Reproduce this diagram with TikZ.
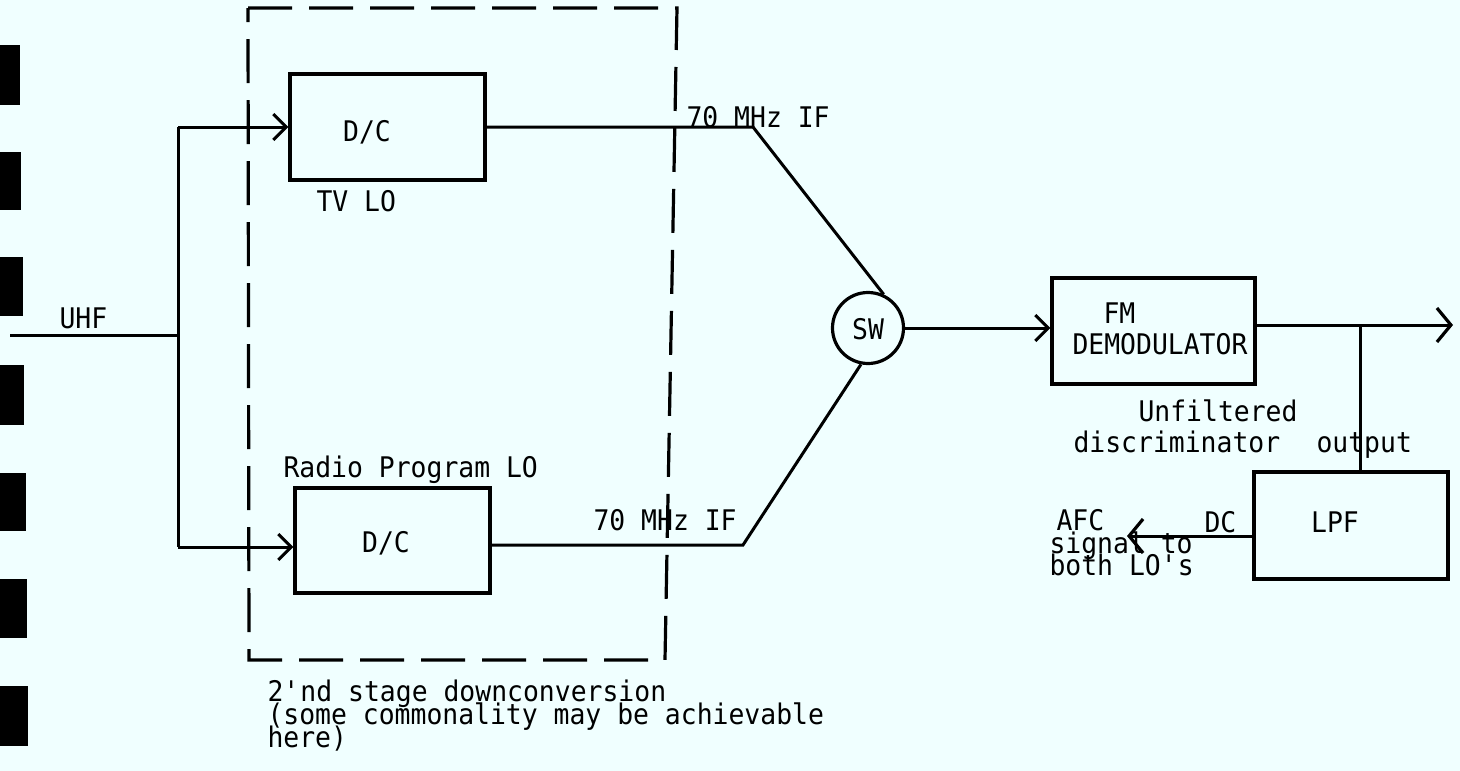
\documentclass[tikz,border=0pt]{standalone}
\usepackage{fontspec}
\setmainfont{DejaVu Sans Mono}[FakeStretch=0.93]
\usetikzlibrary{arrows.meta}
\definecolor{paper}{HTML}{F0FFFF}
\begin{document}
\begin{tikzpicture}[x=1pt,y=-1pt,line width=3pt,
  every node/.style={font=\fontsize{28.4}{23}\selectfont,inner sep=0pt},
  lbl/.style={anchor=base west},
  blk/.style={draw,rectangle,line width=3.2pt},
  arr/.style={-{Straight Barb[length=13pt,width=26pt,line width=3pt]}},
  bigarr/.style={-{Straight Barb[length=14pt,width=34pt,line width=3.2pt]}},
  frame/.style={line width=3.2pt,dash pattern=on 44pt off 17pt},
  bar/.style={fill=black}]
\fill[paper] (0,0) rectangle (1460,771);
\useasboundingbox (0,0) rectangle (1460,771);
% scan holes on the left edge
\fill[bar] (0,45) rectangle (20,105);
\fill[bar] (0,152) rectangle (21,210);
\fill[bar] (0,257) rectangle (23,316);
\fill[bar] (0,365) rectangle (24,425);
\fill[bar] (0,473) rectangle (26,531);
\fill[bar] (0,579) rectangle (27,638);
\fill[bar] (0,686) rectangle (28,746);
% dashed frame
\draw[frame] (248,8) -- (677,8) -- (665,660) -- (249,660) -- cycle;
% blocks
\node[blk,minimum width=195pt,minimum height=106pt] (tv) at (387.5,127) {};
\node (tvdc) at (367,132) {D/C};
\node[blk,minimum width=195pt,minimum height=105pt] (radio) at (392.5,540.5) {};
\node (raddc) at (386,543) {D/C};
\node[draw,circle,line width=3.2pt,minimum size=71pt] (sw) at (868,328) {};
\node (swt) at (868,329) {SW};
\node[blk,minimum width=203pt,minimum height=106pt] (fm) at (1153.5,331) {};
\node[blk,minimum width=194pt,minimum height=107pt] (lpf) at (1351,525.5) {};
\node (lpft) at (1335,522) {LPF};
% labels
\node[lbl] (uhf) at (58,328) {UHF};
\node[lbl] (tvlo) at (315,211) {TV LO};
\node[lbl] (radlo) at (282,477) {Radio Program LO};
\node[lbl] (iftop) at (685,127) {70 MHz IF};
\node[lbl] (ifbot) at (592,530) {70 MHz IF};
\node[lbl] (fmt) at (1102,323) {FM};
\node[lbl] (demod) at (1071,354) {DEMODULATOR};
\node[lbl] (unf) at (1137,421) {Unfiltered};
\node[lbl] (disc) at (1072,452) {discriminator};
\node[lbl] (outp) at (1315,452) {output};
\node[lbl] (dc) at (1203,532) {DC};
\node[lbl] (afc) at (1055,530) {AFC};
\node[lbl] (sig) at (1048,553) {signal to};
\node[lbl] (both) at (1048,575) {both LO\textquotesingle s};
\node[lbl] (cap1) at (266,701) {2\textquotesingle nd stage downconversion};
\node[lbl] (cap2) at (266,724) {(some commonality may be achievable};
\node[lbl] (cap3) at (266,747) {here)};
% coordinates
\coordinate (uin) at (10,335);
\coordinate (bus) at (178,335);
\coordinate (jtop) at (178,127);
\coordinate (jbot) at (178,547);
\coordinate (ktop) at (753,127);
\coordinate (kbot) at (743,545);
\coordinate (outend) at (1453,325);
\coordinate (br) at (1360,325);
\coordinate (afcend) at (1127,536);
% connectors
\draw (uin) -- (bus);
\draw (jtop) -- (jbot);
\draw[arr] (jtop) -- (tv.west);
\draw[arr] (jbot) -- (jbot -| radio.west);
\draw (tv.east) -- (ktop) -- (sw.65);
\draw (radio.east |- kbot) -- (kbot) -- (sw.-101);
\draw[arr] (sw.east) -- (sw.east -| fm.west);
\draw[bigarr] (fm.east |- outend) -- (outend);
\draw (br) -- (br |- lpf.north);
\draw[bigarr] (lpf.west |- afcend) -- (afcend);
\end{tikzpicture}
\end{document}
